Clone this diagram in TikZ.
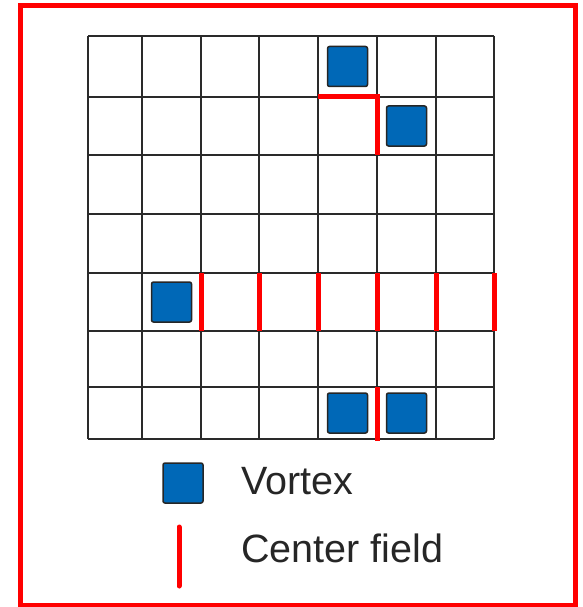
\documentclass[tikz,border=0pt]{standalone}
\usepackage{fontspec}
\setmainfont{Liberation Sans}
\definecolor{vblue}{HTML}{0068B7}
\definecolor{gridgray}{HTML}{2A2A2A}
\begin{document}
\begin{tikzpicture}[x=1pt,y=-1pt,
  gridline/.style={draw=gridgray,line width=2.2pt},
  redline/.style={draw=red,line width=5pt},
  vortex/.style={draw=black!85,fill=vblue,line width=1.5pt,rounded corners=2pt,
    minimum size=40pt,inner sep=0pt,outer sep=0pt},
  legtext/.style={anchor=base west,inner sep=0pt,font=\fontsize{39.5}{41}\selectfont,text=black!85}]
\useasboundingbox (0,0) rectangle (582,607);
\draw[draw=red,line width=5pt] (20,6) rectangle (575,605);
% grid
\foreach \x in {88,142,201,259,318,377,436,494}
  \draw[gridline] (\x,36) -- (\x,439);
\foreach \y in {36,97,155,214,273,331,387,439}
  \draw[gridline] (88,\y) -- (494,\y);
% vortices
\node[vortex] (v1) at (347.5,66.5) {};
\node[vortex] (v2) at (406.5,126) {};
\node[vortex] (v3) at (171.5,302) {};
\node[vortex] (v4) at (347.5,413) {};
\node[vortex] (v5) at (406.5,413) {};
% center field
\draw[redline] (318,97) -- (377,97) -- (377,155);
\foreach \x in {201,259,318,377,436,494}
  \draw[redline] (\x,273) -- (\x,331);
\draw[redline] (377,387) -- (377,441);
% legend
\node[vortex] (lv) at (183,483) {};
\node[legtext] (tv) at (241,494) {Vortex};
\draw[draw=red,line width=5pt,line cap=round] (179,527) -- (179,586);
\node[legtext] (tc) at (241,562) {Center field};
\end{tikzpicture}
\end{document}
